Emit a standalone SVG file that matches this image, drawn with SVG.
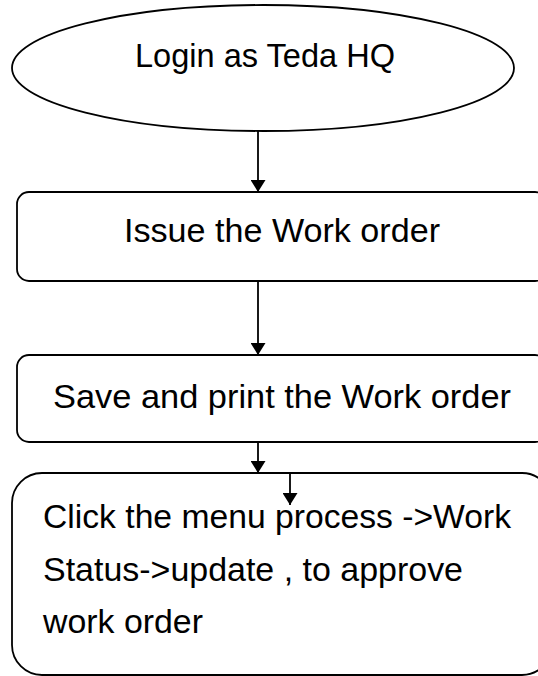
<svg xmlns="http://www.w3.org/2000/svg" width="538" height="676" viewBox="0 0 538 676">
<defs>
<style>
.shape{fill:#fff;stroke:#000;stroke-width:1.8}
.lbl{font-family:"Liberation Sans",Arial,sans-serif;font-size:33px;fill:#000}
.conn{stroke:#000;stroke-width:1.8;fill:none}
</style>
<marker id="ah" viewBox="0 0 12 15" refX="12" refY="7.5" markerWidth="12" markerHeight="15" markerUnits="userSpaceOnUse" orient="auto">
<path d="M0,0 L12,7.5 L0,15 Z" fill="#000"/>
</marker>
</defs>
<rect width="538" height="676" fill="#fff"/>
<g id="start">
<ellipse class="shape" cx="263" cy="68" rx="251" ry="63"/>
<text class="lbl" x="135" y="67" textLength="260" lengthAdjust="spacingAndGlyphs">Login as Teda HQ</text>
</g>
<g id="issue">
<rect class="shape" x="17" y="192" width="530" height="89" rx="12"/>
<text class="lbl" x="124" y="242" textLength="316" lengthAdjust="spacingAndGlyphs">Issue the Work order</text>
</g>
<g id="save">
<rect class="shape" x="17" y="355" width="530" height="87" rx="12"/>
<text class="lbl" x="53" y="408" textLength="458" lengthAdjust="spacingAndGlyphs">Save and print the Work order</text>
</g>
<g id="approve">
<rect class="shape" x="12" y="473" width="540" height="202" rx="30"/>
<text class="lbl" x="43" y="528" textLength="468" lengthAdjust="spacingAndGlyphs">Click the menu process -&gt;Work</text>
<text class="lbl" x="43" y="581" textLength="420" lengthAdjust="spacingAndGlyphs">Status-&gt;update , to approve</text>
<text class="lbl" x="43" y="633" textLength="160" lengthAdjust="spacingAndGlyphs">work order</text>
</g>
<g id="connectors">
<line class="conn" x1="258" y1="131" x2="258" y2="192" marker-end="url(#ah)"/>
<line class="conn" x1="258" y1="281" x2="258" y2="355" marker-end="url(#ah)"/>
<line class="conn" x1="258" y1="442" x2="258" y2="473" marker-end="url(#ah)"/>
<line class="conn" x1="290" y1="473" x2="290" y2="505" marker-end="url(#ah)"/>
</g>
</svg>
